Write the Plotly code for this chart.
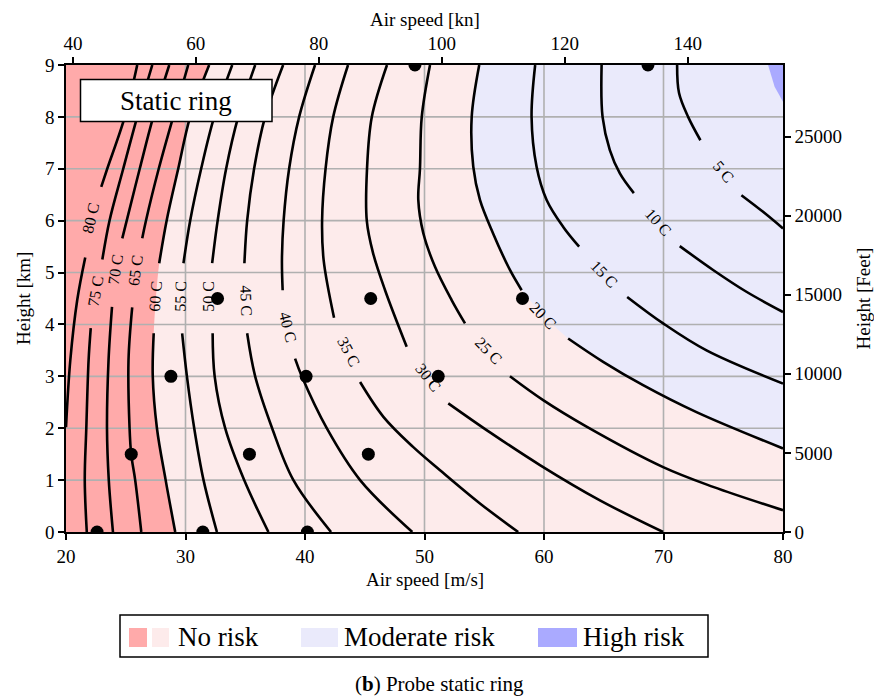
import plotly.graph_objects as go

# ---------------- data ----------------
levels = [80, 75, 70, 65, 60, 55, 50, 45, 40, 35, 30, 25, 20, 15, 10, 5]

# contour lines: part above the label and part below the label (speed m/s, height km)
upper_speed = [
    [25.96, 24.92, 23.45, 22.95],
    [27.22, 25.96, 24.79, 23.64, 23.04],
    [28.64, 27.30, 26.17, 25.08, 24.71],
    [30.23, 28.97, 27.76, 26.69, 26.38],
    [31.98, 30.39, 29.39, 28.42, 27.80],
    [33.91, 32.40, 31.31, 30.39, 29.83],
    [35.83, 34.41, 33.40, 32.69, 32.23],
    [38.17, 36.66, 35.74, 35.16, 34.93],
    [40.84, 39.51, 38.67, 38.21, 38.07, 38.13],
    [43.60, 42.36, 41.72, 41.43, 41.56, 42.43],
    [46.86, 45.59, 45.19, 45.17, 45.69, 46.70, 48.51],
    [50.46, 49.77, 49.62, 49.48, 49.90, 50.88, 52.27, 53.39],
    [54.58, 53.95, 54.08, 54.64, 55.75, 57.15, 58.13],
    [59.26, 58.96, 59.38, 60.22, 61.61, 62.94],
    [64.82, 64.90, 65.51, 66.35, 67.52],
    [71.14, 71.30, 72.06, 73.09],
]
upper_height = [
    [9.0, 8.0, 7.0, 6.65],
    [9.0, 8.0, 7.0, 6.0, 5.25],
    [9.0, 8.0, 7.0, 6.0, 5.66],
    [9.0, 8.0, 7.0, 6.0, 5.66],
    [9.0, 8.0, 7.0, 6.0, 5.18],
    [9.0, 8.0, 7.0, 6.0, 5.18],
    [9.0, 8.0, 7.0, 6.0, 5.18],
    [9.0, 8.0, 7.0, 6.0, 5.18],
    [9.0, 8.0, 7.0, 6.0, 5.24, 4.66],
    [9.0, 8.0, 7.0, 6.0, 5.24, 4.13],
    [9.0, 8.0, 7.0, 6.0, 5.38, 4.66, 3.57],
    [9.0, 8.0, 7.0, 6.40, 5.76, 5.11, 4.47, 4.02],
    [9.0, 8.0, 7.04, 6.40, 5.75, 5.05, 4.66],
    [9.0, 8.0, 7.04, 6.40, 5.88, 5.50],
    [9.0, 8.0, 7.36, 6.91, 6.53],
    [9.0, 8.46, 8.0, 7.55],
]
lower_speed = [
    [21.61, 20.94, 20.36, 20.0],
    [22.07, 21.89, 21.70, 21.57, 21.74],
    [23.85, 23.56, 23.43, 23.58, 23.93],
    [25.54, 25.23, 25.32, 25.46, 25.79, 26.30],
    [27.34, 27.26, 27.61, 28.34, 29.14],
    [29.72, 30.12, 30.73, 31.51, 32.63],
    [32.27, 32.44, 33.32, 34.91, 36.94],
    [35.16, 35.83, 37.25, 39.03, 42.18],
    [39.17, 39.73, 41.82, 44.61, 48.98],
    [44.61, 46.56, 49.04, 51.30, 54.64, 57.84],
    [51.99, 55.48, 59.66, 64.68, 69.97],
    [57.15, 59.93, 63.56, 69.97, 74.15, 80.0],
    [62.02, 64.95, 68.29, 72.76, 80.0],
    [66.96, 69.97, 73.60, 80.0],
    [71.36, 74.15, 76.94, 80.0],
    [76.52, 78.33, 80.0],
]
lower_height = [
    [5.29, 4.47, 3.31, 2.02],
    [3.93, 3.31, 2.0, 1.0, 0.0],
    [4.34, 3.31, 2.0, 1.0, 0.0],
    [4.33, 3.31, 2.0, 1.49, 1.0, 0.0],
    [3.83, 3.0, 2.0, 1.0, 0.0],
    [3.83, 3.0, 2.0, 1.0, 0.0],
    [3.83, 3.0, 2.0, 1.0, 0.0],
    [3.83, 3.0, 2.0, 1.0, 0.0],
    [3.34, 3.0, 2.0, 1.0, 0.0],
    [2.89, 2.22, 1.64, 1.19, 0.55, 0.0],
    [2.48, 1.92, 1.29, 0.61, 0.0],
    [3.0, 2.54, 2.03, 1.25, 0.87, 0.42],
    [3.73, 3.28, 2.83, 2.31, 1.61],
    [4.53, 4.02, 3.50, 2.86],
    [5.51, 5.05, 4.63, 4.24],
    [6.49, 6.17, 5.85],
]

label_speed = [22.03, 22.45, 24.13, 25.80, 27.47, 29.56, 31.92, 35.13,
               38.61, 43.63, 50.32, 55.34, 59.93, 65.09, 69.60, 75.00]
label_height = [6.05, 4.64, 5.06, 5.04, 4.54, 4.54, 4.54, 4.45,
                3.95, 3.47, 2.98, 3.49, 4.18, 4.97, 5.97, 6.94]
label_angle = [-77, -80, -81, -82, -86, -89, -90, 88, 76, 62, 52, 46, 46, 46, 48, 50]

# high-risk corner
high_speed = [78.75, 79.3, 80.0, 80.0]
high_height = [9.0, 8.58, 8.29, 9.0]

# measurement points
point_speed = [22.6, 31.45, 40.2, 25.46, 35.35, 45.3, 28.78, 40.09, 51.15,
               32.68, 45.5, 58.2, 49.2, 68.7]
point_height = [0, 0, 0, 1.5, 1.5, 1.5, 3, 3, 3, 4.5, 4.5, 4.5, 9, 9]

x_ticks = [20, 30, 40, 50, 60, 70, 80]
y_ticks = [0, 1, 2, 3, 4, 5, 6, 7, 8, 9]
kn_ticks = [40, 60, 80, 100, 120, 140]
ft_ticks = [0, 5000, 10000, 15000, 20000, 25000]

# ---------------- styling ----------------
RED = "#FFAAAA"
PINK = "#FDEBEB"
LBLUE = "#EAEAFB"
BLUE = "#AAAAFF"
GRID = "#B0B0B0"
FONT = "Liberation Serif"
KN = 1.943844
FT = 3280.84

W, H = 874, 698
L, R, T, B = 66, 91, 65, 166
PW, PH = W - L - R, H - T - B


def px(x):
    return (x - L) / PW


def py(y):
    return (H - B - y) / PH


fig = go.Figure()

i60 = levels.index(60)
i20 = levels.index(20)

# red (no risk, >60 C) region
fig.add_trace(go.Scatter(
    x=upper_speed[i60] + lower_speed[i60], y=upper_height[i60] + lower_height[i60],
    mode="lines", line=dict(width=0, shape="spline"), fill="tozerox",
    fillcolor=RED, hoverinfo="skip"))

# moderate risk (<20 C) region
fig.add_trace(go.Scatter(x=[95, 95], y=[10, -1], mode="lines",
                         line=dict(width=0), hoverinfo="skip"))
fig.add_trace(go.Scatter(
    x=upper_speed[i20] + lower_speed[i20], y=upper_height[i20] + lower_height[i20],
    mode="lines", line=dict(width=0, shape="spline"), fill="tonextx",
    fillcolor=LBLUE, hoverinfo="skip"))

# high risk
fig.add_trace(go.Scatter(x=high_speed, y=high_height, mode="lines",
                         line=dict(width=0), fill="toself", fillcolor=BLUE,
                         hoverinfo="skip"))

# grid lines (above fills, below contour lines)
gx, gy = [], []
for xv in x_ticks[1:-1]:
    gx += [xv, xv, None]
    gy += [y_ticks[0], y_ticks[-1], None]
for yv in y_ticks[1:-1]:
    gx += [x_ticks[0], x_ticks[-1], None]
    gy += [yv, yv, None]
fig.add_trace(go.Scatter(x=gx, y=gy, mode="lines",
                         line=dict(color=GRID, width=1.6), hoverinfo="skip"))

# contour lines
for k, lvl in enumerate(levels):
    fig.add_trace(go.Scatter(
        x=upper_speed[k] + [None] + lower_speed[k],
        y=upper_height[k] + [None] + lower_height[k],
        mode="lines", connectgaps=False,
        line=dict(color="black", width=2.6, shape="spline"),
        hoverinfo="skip"))

# points
fig.add_trace(go.Scatter(x=point_speed, y=point_height, mode="markers",
                         marker=dict(color="black", size=13), hoverinfo="skip"))

# dummy trace for secondary axes
fig.add_trace(go.Scatter(x=[kn_ticks[0]], y=[ft_ticks[0]], xaxis="x2", yaxis="y2",
                         mode="markers", marker=dict(opacity=0), hoverinfo="skip"))

# contour labels
for k, lvl in enumerate(levels):
    fig.add_annotation(x=label_speed[k], y=label_height[k], xref="x", yref="y",
                       text=f"{lvl} C", showarrow=False, textangle=label_angle[k],
                       xanchor="center", yanchor="middle",
                       font=dict(family=FONT, size=16, color="black"))

axis_common = dict(showline=True, linecolor="black", linewidth=1.5, ticks="outside",
                   ticklen=6, tickwidth=1.5, tickcolor="black", showgrid=False,
                   zeroline=False, tickfont=dict(family=FONT, size=19, color="black"))

fig.update_layout(
    width=W, height=H, margin=dict(l=L, r=R, t=T, b=B),
    paper_bgcolor="white", plot_bgcolor=PINK, showlegend=False,
    xaxis=dict(range=[x_ticks[0], x_ticks[-1]], tickvals=x_ticks, **axis_common),
    yaxis=dict(range=[y_ticks[0], y_ticks[-1]], tickvals=y_ticks, **axis_common),
    xaxis2=dict(range=[x_ticks[0] * KN, x_ticks[-1] * KN], tickvals=kn_ticks,
                ticktext=[str(t) for t in kn_ticks],
                overlaying="x", side="top", anchor="y", **axis_common),
    yaxis2=dict(range=[y_ticks[0] * FT, y_ticks[-1] * FT], tickvals=ft_ticks,
                ticktext=[str(t) for t in ft_ticks],
                overlaying="y", side="right", anchor="x", **axis_common),
)


def note(x, y, text, size, angle=0, xanchor="center"):
    fig.add_annotation(x=x, y=y, xref="paper", yref="paper", text=text,
                       showarrow=False, textangle=angle, xanchor=xanchor,
                       yanchor="middle", font=dict(family=FONT, size=size, color="black"))


note(0.5, py(20), "Air speed [kn]", 19)
note(0.5, py(579), "Air speed [m/s]", 19)
note(px(23.5), 0.5, "Height [km]", 19, angle=-90)
note(px(863), 0.5, "Height [Feet]", 19, angle=-90)

# "Static ring" box
fig.add_shape(type="rect", xref="paper", yref="paper", x0=px(80.5), x1=px(272),
              y0=py(121.5), y1=py(79.5), fillcolor="white",
              line=dict(color="black", width=1.5), layer="above")
note(px(176), py(101), "Static ring", 27)

# legend (drawn manually)
fig.add_shape(type="rect", xref="paper", yref="paper", x0=px(120), x1=px(708),
              y0=py(657), y1=py(615), fillcolor="white",
              line=dict(color="black", width=1.5))
swatches = [(129, 147, RED), (152, 169, PINK), (301, 338, LBLUE), (538, 577, BLUE)]
for x0, x1, c in swatches:
    fig.add_shape(type="rect", xref="paper", yref="paper", x0=px(x0), x1=px(x1),
                  y0=py(647), y1=py(628), fillcolor=c, line=dict(width=0))
for xl, txt in [(176, "No risk"), (342, "Moderate risk"), (581, "High risk")]:
    note(px(xl), py(637), txt, 27, xanchor="left")

note(px(439), py(684), "(<b>b</b>) Probe static ring", 21)

fig.write_html("out.html")
